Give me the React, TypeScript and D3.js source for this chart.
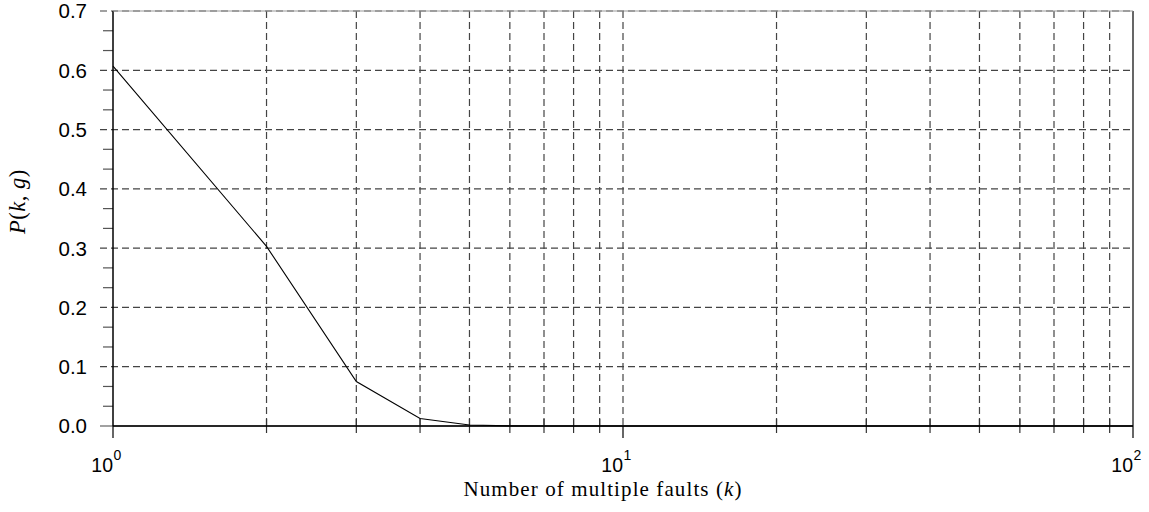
import React from "react";
import * as d3 from "d3";

// P(k, g), k = number of multiple faults
const kValues = [1, 2, 3, 4, 5, 6, 7, 8, 9, 10, 20, 30, 40, 50, 60, 70, 80, 90, 100];
const pValues = [0.607, 0.303, 0.075, 0.0125, 0.0016, 0.0002, 0, 0, 0, 0, 0, 0, 0, 0, 0, 0, 0, 0, 0];
const yTicks = [0, 0.1, 0.2, 0.3, 0.4, 0.5, 0.6, 0.7];
const yMinorTicks = [0.0333, 0.0667, 0.1333, 0.1667, 0.2333, 0.2667, 0.3333, 0.3667, 0.4333, 0.4667, 0.5333, 0.5667, 0.6333, 0.6667];
const xDecades = [1, 10, 100];
const xDecadeLabels = ["0", "1", "2"];

export default function App() {
  const margin = { top: 11, right: 16, bottom: 86, left: 113 };
  const width = 1149;
  const height = 512;
  const innerW = width - margin.left - margin.right;
  const innerH = height - margin.top - margin.bottom;

  const x = d3.scaleLog().domain([1, 100]).range([0, innerW]);
  const y = d3.scaleLinear().domain([0, 0.7]).range([innerH, 0]);

  const xMinor = x.ticks().filter((t) => !xDecades.includes(t));

  const line = d3
    .line<number>()
    .x((_, i) => x(kValues[i]))
    .y((d) => y(d));

  const sans = "'Liberation Sans', Arial, sans-serif";
  const serif = "'Liberation Serif', 'Times New Roman', serif";
  const dash = "7,4";
  const gridColor = "#444";

  return (
    <svg
      width={width}
      height={height}
      style={{ position: "absolute", left: 0, top: 0, background: "#fff" }}
    >
      <g transform={`translate(${margin.left},${margin.top})`}>
        {/* horizontal grid + major y ticks */}
        {yTicks.map((t) => (
          <line
            key={`hg${t}`}
            x1={-13}
            x2={innerW}
            y1={y(t)}
            y2={y(t)}
            stroke={gridColor}
            strokeWidth={1.2}
            strokeDasharray={t === 0 ? undefined : dash}
          />
        ))}
        {/* vertical grid */}
        {[...xMinor, 10].map((t) => (
          <line
            key={`vg${t}`}
            x1={x(t)}
            x2={x(t)}
            y1={0}
            y2={innerH}
            stroke={gridColor}
            strokeWidth={1.2}
            strokeDasharray={dash}
          />
        ))}
        {/* minor y ticks */}
        {yMinorTicks.map((t) => (
          <line key={`ym${t}`} x1={-10} x2={0} y1={y(t)} y2={y(t)} stroke="#555" strokeWidth={1.2} />
        ))}
        {/* minor x ticks */}
        {xMinor.map((t) => (
          <line key={`xm${t}`} x1={x(t)} x2={x(t)} y1={innerH - 7} y2={innerH + 7} stroke="#333" strokeWidth={1.2} />
        ))}
        {/* major x ticks */}
        {xDecades.map((t) => (
          <line key={`xM${t}`} x1={x(t)} x2={x(t)} y1={innerH} y2={innerH + 12} stroke="#000" strokeWidth={1.2} />
        ))}
        {/* frame */}
        <line x1={0} x2={0} y1={0} y2={innerH} stroke="#000" strokeWidth={1.5} />
        <line x1={0} x2={innerW} y1={innerH} y2={innerH} stroke="#000" strokeWidth={1.5} />
        <line x1={innerW} x2={innerW} y1={0} y2={innerH} stroke="#000" strokeWidth={1.2} />
        <line x1={0} x2={innerW} y1={0} y2={0} stroke="#999" strokeWidth={1} />

        {/* data */}
        <path d={line(pValues) ?? ""} fill="none" stroke="#000" strokeWidth={1.1} />

        {/* y tick labels */}
        {yTicks.map((t) => (
          <text
            key={`yl${t}`}
            x={-26}
            y={y(t)}
            dy="0.36em"
            textAnchor="end"
            fontFamily={sans}
            fontSize={20.5}
          >
            {t.toFixed(1)}
          </text>
        ))}
        {/* x tick labels */}
        {xDecades.map((t, i) => (
          <g key={`xl${t}`}>
            <text x={x(t)} y={innerH + 46} textAnchor="end" fontFamily={sans} fontSize={19.5}>
              10
            </text>
            <text x={x(t) + 0.5} y={innerH + 34} textAnchor="start" fontFamily={sans} fontSize={14}>
              {xDecadeLabels[i]}
            </text>
          </g>
        ))}

        {/* axis titles */}
        <text
          x={490}
          y={innerH + 70}
          textAnchor="middle"
          fontFamily={serif}
          fontSize={21}
          letterSpacing={1.1}
        >
          Number of multiple faults (<tspan fontStyle="italic">k</tspan>)
        </text>
        <text
          transform={`translate(${-88},${innerH / 2 - 17}) rotate(-90)`}
          textAnchor="middle"
          fontFamily={serif}
          fontSize={22.5}
          letterSpacing={0.5}
        >
          <tspan fontStyle="italic">P</tspan>(<tspan fontStyle="italic">k</tspan>, <tspan fontStyle="italic">g</tspan>)
        </text>
      </g>
    </svg>
  );
}
